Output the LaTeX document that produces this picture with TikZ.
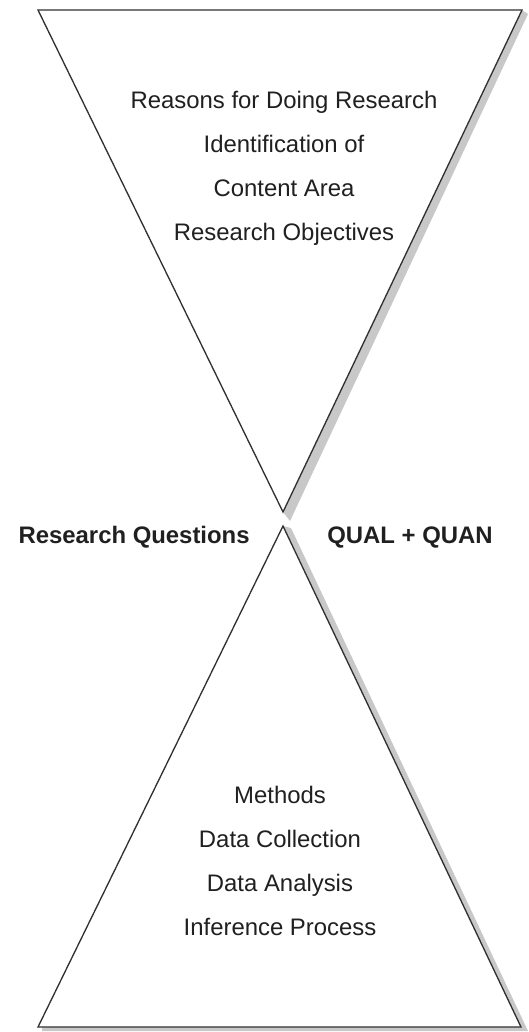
\documentclass[tikz,border=0pt]{standalone}
\usepackage{fontspec}
\setmainfont{Liberation Sans}
\usetikzlibrary{positioning}
\definecolor{Edge}{HTML}{303030}
\definecolor{Shade}{HTML}{C8C8C8}
\definecolor{Ink}{HTML}{202020}
\tikzset{funnel/.style={draw=Edge,line width=0.75pt,fill=white,line join=miter},shade/.style={fill=Shade,draw=none},stage/.style={text=Ink,font=\fontsize{13.6}{16}\selectfont,anchor=base,inner sep=0pt},pivot/.style={text=Ink,font=\fontsize{13.6}{16}\selectfont\bfseries,inner sep=0pt}}
\begin{document}
\begin{tikzpicture}[x=0.02cm,y=-0.02cm]
\fill[white] (0,0) rectangle (528,1032);
\useasboundingbox (0,0) rectangle (528,1032);
% shadows
\fill[shade] (522,10) -- (528,14) -- (290,521) -- (283,512) -- cycle;
\fill[shade] (283,526) -- (521,1027) -- (42,1027) -- (42,1031) -- (528,1031) -- (291,528) -- cycle;
% upper and lower funnel
\draw[funnel] (38,10) -- (522,10) -- (283,512) -- cycle;
\draw[funnel] (283,526) -- (521,1027) -- (38,1027) -- cycle;
\node[stage] (reasons) at (284,108) {Reasons for Doing Research};
\node[stage] (ident) at (284,152) {Identification of};
\node[stage] (content) at (284,196) {Content Area};
\node[stage] (objectives) at (284,240) {Research Objectives};
\node[pivot,anchor=base east] (questions) at (250,543) {Research Questions};
\node[pivot,anchor=base west] (qualquan) at (327,543) {QUAL + QUAN};
\node[stage] (methods) at (280,803) {Methods};
\node[stage] (collection) at (280,847) {Data Collection};
\node[stage] (analysis) at (280,891) {Data Analysis};
\node[stage] (inference) at (280,935) {Inference Process};
\end{tikzpicture}
\end{document}
